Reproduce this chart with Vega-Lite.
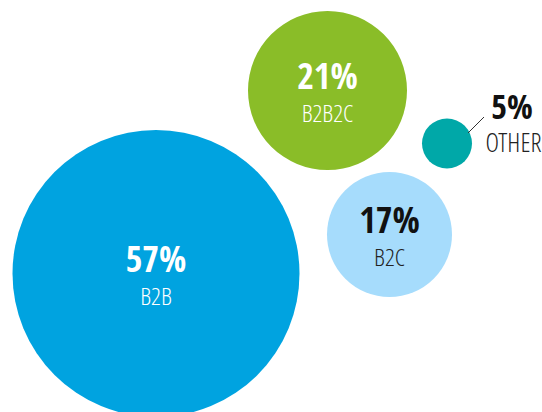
{
  "$schema": "https://vega.github.io/schema/vega-lite/v6.json",
  "width": 542,
  "height": 412,
  "autosize": {"type": "none"},
  "padding": 0,
  "background": "white",
  "config": {"view": {"stroke": null}},
  "datasets": {
    "bubbles": [
      {"segment": "B2B", "share": 0.57, "cx": 156, "cy": 273.5},
      {"segment": "B2B2C", "share": 0.21, "cx": 327.5, "cy": 90.5},
      {"segment": "B2C", "share": 0.17, "cx": 389.5, "cy": 234.5},
      {"segment": "OTHER", "share": 0.05, "cx": 447, "cy": 143.5}
    ],
    "leader": [{"segment": "OTHER", "x1": 468, "y1": 133, "x2": 484, "y2": 117}]
  },
  "encoding": {
    "x": {"field": "cx", "type": "quantitative", "scale": {"domain": [0, 542], "nice": false, "zero": false}, "axis": null},
    "y": {"field": "cy", "type": "quantitative", "scale": {"domain": [0, 412], "nice": false, "zero": false, "reverse": true}, "axis": null}
  },
  "layer": [
    {
      "data": {"name": "bubbles"},
      "mark": {"type": "point", "shape": "circle", "filled": true, "opacity": 1, "strokeWidth": 0},
      "encoding": {
        "size": {"field": "share", "type": "quantitative", "scale": {"zero": false, "domain": [0.05, 0.17, 0.21, 0.57], "range": [2500, 15625, 25281, 82369]}, "legend": null},
        "color": {"field": "segment", "type": "nominal", "scale": {"domain": ["B2B", "B2B2C", "B2C", "OTHER"], "range": ["#00A3E0", "#8ABD28", "#A6DCFC", "#00A8A8"]}, "legend": null}
      }
    },
    {
      "data": {"name": "bubbles"},
      "transform": [{"filter": "datum.segment !== 'OTHER'"}],
      "mark": {"type": "text", "font": "Open Sans Condensed", "fontWeight": "bold", "fontSize": 36, "baseline": "alphabetic", "align": "center", "dy": -2},
      "encoding": {
        "text": {"field": "share", "type": "quantitative", "format": ".0%"},
        "color": {"condition": {"test": "datum.segment === 'B2C'", "value": "#111111"}, "value": "#ffffff"}
      }
    },
    {
      "data": {"name": "bubbles"},
      "transform": [{"filter": "datum.segment !== 'OTHER'"}],
      "mark": {"type": "text", "font": "Open Sans Condensed Light, Open Sans", "fontWeight": 300, "fontSize": 24.5, "baseline": "alphabetic", "align": "center", "dy": 31},
      "encoding": {
        "text": {"field": "segment", "type": "nominal"},
        "color": {"condition": {"test": "datum.segment === 'B2C'", "value": "#222222"}, "value": "#ffffff"}
      }
    },
    {
      "data": {"name": "bubbles"},
      "transform": [{"filter": "datum.segment === 'OTHER'"}],
      "mark": {"type": "text", "font": "Open Sans Condensed", "fontWeight": "bold", "fontSize": 34, "baseline": "alphabetic", "align": "center", "dx": 65, "dy": -24.5, "color": "#111111"},
      "encoding": {"text": {"field": "share", "type": "quantitative", "format": ".0%"}}
    },
    {
      "data": {"name": "bubbles"},
      "transform": [{"filter": "datum.segment === 'OTHER'"}],
      "mark": {"type": "text", "font": "Open Sans Condensed Light, Open Sans", "fontWeight": 300, "fontSize": 26, "baseline": "alphabetic", "align": "center", "dx": 66.5, "dy": 8.5, "color": "#222222"},
      "encoding": {"text": {"field": "segment", "type": "nominal"}}
    },
    {
      "data": {"name": "leader"},
      "mark": {"type": "rule", "color": "#333333", "strokeWidth": 1},
      "encoding": {
        "x": {"field": "x1", "type": "quantitative"},
        "y": {"field": "y1", "type": "quantitative"},
        "x2": {"field": "x2"},
        "y2": {"field": "y2"}
      }
    }
  ]
}
